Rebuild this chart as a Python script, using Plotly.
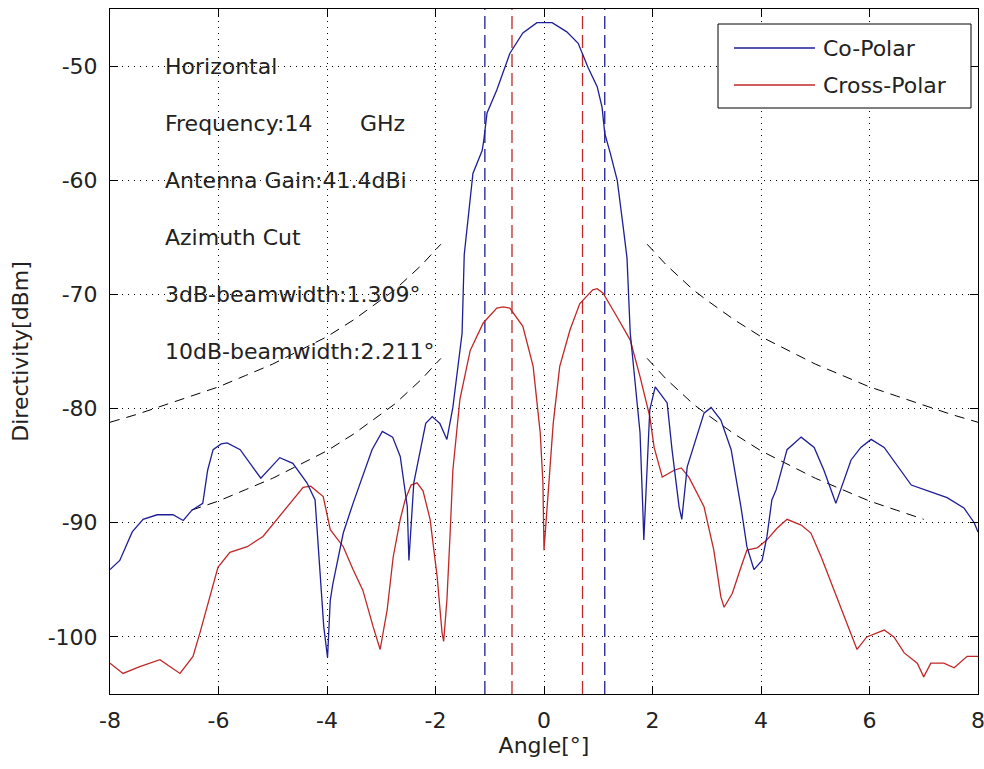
import plotly.graph_objects as go

# ---------------- data ----------------
co_x = [-8.0, -7.82, -7.59, -7.39, -7.13, -6.84, -6.65, -6.49, -6.29, -6.2, -6.1, -5.95, -5.84,
        -5.6, -5.22, -4.87, -4.63, -4.37, -4.22, -4.06, -3.99, -3.94, -3.89, -3.70, -3.52,
        -3.35, -3.17, -2.98, -2.79, -2.65, -2.52, -2.49, -2.40, -2.18, -2.06, -1.92, -1.79,
        -1.68, -1.51, -1.47, -1.31, -1.14, -1.11, -1.05, -0.87, -0.63, -0.39, -0.13, 0.15,
        0.42, 0.63, 0.81, 0.98, 1.07, 1.12, 1.22, 1.35, 1.46, 1.53, 1.59, 1.68, 1.77, 1.82,
        1.84, 1.95, 2.05, 2.27, 2.36, 2.49, 2.54, 2.64, 2.95, 3.08, 3.26, 3.45, 3.63, 3.74,
        3.87, 4.02, 4.11, 4.20, 4.28, 4.48, 4.74, 4.98, 5.16, 5.38, 5.66, 5.84, 6.03, 6.27,
        6.58, 6.77, 7.13, 7.43, 7.74, 7.93, 8.0]
co_y = [-94.1, -93.3, -90.8, -89.7, -89.3, -89.3, -89.8, -88.9, -88.3, -85.4, -83.6, -83.1, -83.0,
        -83.6, -86.1, -84.3, -84.8, -86.5, -88.0, -99.1, -101.8, -96.8, -95.3, -90.9, -88.3,
        -86.0, -83.6, -82.0, -82.5, -84.2, -88.6, -93.3, -86.5, -81.3, -80.7, -81.3, -82.7,
        -79.9, -73.4, -66.5, -59.4, -57.4, -56.5, -54.1, -52.1, -48.9, -47.1, -46.2, -46.2,
        -47.0, -48.0, -50.1, -51.8, -53.6, -55.9, -57.6, -60.0, -64.1, -66.8, -73.4, -77.8,
        -82.1, -88.6, -91.5, -80.1, -78.1, -79.5, -83.6, -88.6, -89.7, -85.1, -80.4, -79.9,
        -81.0, -83.6, -88.6, -92.1, -94.1, -93.3, -91.2, -88.0, -87.1, -83.6, -82.5, -83.4,
        -85.4, -88.3, -84.5, -83.4, -82.7, -83.4, -85.4, -86.7, -87.3, -87.8, -88.7, -90.0, -90.8]

cx_x = [-8.0, -7.76, -7.45, -7.08, -6.71, -6.47, -6.34, -6.16, -6.01, -5.79, -5.47, -5.18, -4.92,
        -4.63, -4.44, -4.3, -4.07, -3.94, -3.70, -3.52, -3.34, -3.15, -3.02, -2.89, -2.78, -2.65,
        -2.56, -2.45, -2.34, -2.23, -2.10, -1.97, -1.88, -1.85, -1.79, -1.73, -1.68, -1.55,
        -1.36, -1.12, -0.87, -0.75, -0.63, -0.39, -0.20, -0.07, -0.02, 0.0, 0.07, 0.17, 0.29,
        0.48, 0.66, 0.90, 0.98, 1.09, 1.35, 1.59, 1.77, 1.95, 2.03, 2.18, 2.40, 2.53, 2.67,
        2.95, 3.13, 3.26, 3.32, 3.47, 3.63, 3.74, 3.93, 4.11, 4.29, 4.48, 4.74, 4.92, 5.11,
        5.35, 5.53, 5.77, 5.95, 6.27, 6.45, 6.64, 6.88, 7.0, 7.13, 7.37, 7.56, 7.80, 8.0]
cx_y = [-102.3, -103.2, -102.6, -102.0, -103.2, -101.7, -99.6, -96.5, -93.9, -92.6, -92.1, -91.2,
        -89.7, -88.0, -86.9, -86.8, -87.7, -90.6, -92.1, -94.1, -95.9, -99.1, -101.1, -97.6,
        -93.0, -89.7, -88.0, -86.7, -86.5, -87.2, -89.7, -94.7, -99.6, -100.4, -96.8, -90.9,
        -85.4, -79.2, -74.9, -72.5, -71.2, -71.1, -71.2, -72.8, -76.3, -82.1, -86.5, -92.4,
        -88.0, -81.3, -76.3, -73.1, -70.8, -69.6, -69.5, -69.9, -72.0, -74.0, -77.2, -80.7,
        -83.4, -86.0, -85.4, -85.2, -86.0, -88.6, -92.4, -96.5, -97.4, -96.2, -93.9, -92.4,
        -92.2, -91.5, -90.5, -89.7, -90.2, -90.9, -93.0, -95.9, -98.2, -101.1, -100.0, -99.4,
        -100.0, -101.4, -102.3, -103.5, -102.3, -102.3, -102.7, -101.7, -101.7]

# envelope (mask) curves, dashed black
mask_up_left_x = [-8, -7.5, -7, -6.5, -6, -5.5, -5, -4.5, -4, -3.5, -3, -2.75, -2.5, -2.25, -2, -1.9]
mask_up_left_y = [-81.2, -80.5, -79.7, -78.9, -78.1, -77.1, -76.1, -74.9, -73.7, -72.2, -70.5,
                  -69.6, -68.5, -67.4, -66.1, -65.6]
mask_up_right_x = [1.9, 2, 2.25, 2.5, 2.75, 3, 3.5, 4, 4.5, 5, 5.5, 6, 6.5, 7, 7.5, 8]
mask_up_right_y = [-65.6, -66.1, -67.4, -68.5, -69.6, -70.5, -72.2, -73.7, -74.9, -76.1, -77.1,
                   -78.1, -78.9, -79.7, -80.5, -81.2]
mask_lo_left_x = [-6.5, -6, -5.5, -5, -4.5, -4, -3.5, -3, -2.75, -2.5, -2.25, -2, -1.9]
mask_lo_left_y = [-88.9, -88.1, -87.1, -86.1, -84.9, -83.7, -82.2, -80.5, -79.6, -78.5, -77.4,
                  -76.1, -75.6]
mask_lo_right_x = [1.9, 2, 2.25, 2.5, 2.75, 3, 3.5, 4, 4.5, 5, 5.5, 6, 6.5, 7.0]
mask_lo_right_y = [-75.6, -76.1, -77.4, -78.5, -79.6, -80.5, -82.2, -83.7, -84.9, -86.1, -87.1,
                   -88.1, -88.9, -89.7]

bw3_lines = [-0.59, 0.71]      # red dashed verticals (3 dB beamwidth)
bw10_lines = [-1.09, 1.12]     # blue dashed verticals (10 dB beamwidth)

x_ticks = [-8, -6, -4, -2, 0, 2, 4, 6, 8]
y_ticks = [-100, -90, -80, -70, -60, -50]
x_range = [-8, 8]
y_range = [-105, -45]

info_texts = ["Horizontal", "Frequency:14", "Antenna Gain:41.4dBi", "Azimuth Cut",
              "3dB-beamwidth:1.309°", "10dB-beamwidth:2.211°"]
info_y = [-50, -55, -60, -65, -70, -75]
info_x = -7.02
ghz_text = "GHz"
ghz_x = -3.43

series_names = ["Co-Polar", "Cross-Polar"]
BLUE = "#1e1e96"
RED = "#c02828"
FONT = "DejaVu Sans"
FS = 22
TXT = "#222222"

fig = go.Figure()

# masks
for mx, my in [(mask_up_left_x, mask_up_left_y), (mask_up_right_x, mask_up_right_y),
               (mask_lo_left_x, mask_lo_left_y), (mask_lo_right_x, mask_lo_right_y)]:
    fig.add_trace(go.Scatter(x=mx, y=my, mode="lines", showlegend=False, hoverinfo="skip",
                             line=dict(color="black", width=1, dash="10px,7px")))

# beamwidth verticals
for v in bw10_lines:
    fig.add_trace(go.Scatter(x=[v, v], y=y_range, mode="lines", showlegend=False, hoverinfo="skip",
                             line=dict(color=BLUE, width=1.3, dash="13px,6px")))
for v in bw3_lines:
    fig.add_trace(go.Scatter(x=[v, v], y=y_range, mode="lines", showlegend=False, hoverinfo="skip",
                             line=dict(color=RED, width=1.3, dash="13px,6px")))

fig.add_trace(go.Scatter(x=cx_x, y=cx_y, mode="lines", name=series_names[1], showlegend=False,
                         line=dict(color=RED, width=1.3)))
fig.add_trace(go.Scatter(x=co_x, y=co_y, mode="lines", name=series_names[0], showlegend=False,
                         line=dict(color=BLUE, width=1.3)))

annotations = []
for t, yy in zip(info_texts, info_y):
    annotations.append(dict(x=info_x, y=yy, xref="x", yref="y", text=t, showarrow=False,
                            xanchor="left", yanchor="middle",
                            font=dict(family=FONT, size=FS, color=TXT)))
annotations.append(dict(x=ghz_x, y=info_y[1], xref="x", yref="y", text=ghz_text, showarrow=False,
                        xanchor="left", yanchor="middle", font=dict(family=FONT, size=FS, color=TXT)))

# custom legend (box + sample lines + labels)
W, H, L, R, T, B = 984, 769, 110, 6, 9, 75
pw, ph = W - L - R, H - T - B
def px_x(p):
    return (p - L) / pw
def px_y(p):
    return (H - B - p) / ph

shapes = [dict(type="rect", xref="paper", yref="paper", x0=px_x(718), x1=px_x(971),
               y0=px_y(108), y1=px_y(24), line=dict(color="black", width=1), fillcolor="white",
               layer="above")]
for name, col, py in [(series_names[0], BLUE, 48), (series_names[1], RED, 85)]:
    shapes.append(dict(type="line", xref="paper", yref="paper", x0=px_x(734), x1=px_x(815),
                       y0=px_y(py), y1=px_y(py), line=dict(color=col, width=1.3), layer="above"))
    annotations.append(dict(x=px_x(821), y=px_y(py), xref="paper", yref="paper", text=name,
                            showarrow=False, xanchor="left", yanchor="middle",
                            font=dict(family=FONT, size=FS, color=TXT)))

axis_common = dict(showline=True, linecolor="black", linewidth=1, mirror="allticks",
                   ticks="inside", ticklen=8, tickcolor="black", tickwidth=1,
                   showgrid=True, gridcolor="black", gridwidth=1, griddash="1px,5px",
                   zeroline=False, ticklabeloverflow="allow",
                   tickfont=dict(family=FONT, size=FS, color=TXT))

fig.update_layout(
    width=W, height=H, margin=dict(l=L, r=R, t=T, b=B, autoexpand=False),
    paper_bgcolor="white", plot_bgcolor="white", showlegend=False,
    xaxis=dict(range=x_range, tickvals=x_ticks, ticktext=[str(v) for v in x_ticks],
               title=dict(text="Angle[°]", font=dict(family=FONT, size=FS, color=TXT), standoff=4),
               ticklabelstandoff=7, **axis_common),
    yaxis=dict(range=y_range, tickvals=y_ticks, ticktext=[str(v) for v in y_ticks],
               title=dict(text="Directivity[dBm]", font=dict(family=FONT, size=FS, color=TXT), standoff=12),
               ticklabelstandoff=7, **axis_common),
    annotations=annotations, shapes=shapes,
)

fig.write_html("out.html")
